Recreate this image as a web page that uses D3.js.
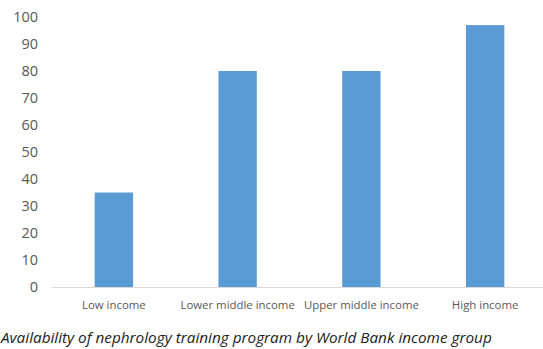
<!DOCTYPE html>
<html>
<head>
<meta charset="utf-8">
<script src="https://cdn.jsdelivr.net/npm/d3@7"></script>
<style>
  html, body { margin: 0; padding: 0; background: #fff; }
  svg { display: block; }
</style>
</head>
<body>
<svg id="chart" width="543" height="349"></svg>
<script>
// Share of countries with a nephrology training program, by income group
const categories = ["Low income", "Lower middle income", "Upper middle income", "High income"];
const values = [35, 80, 80, 97];
const yTicks = [0, 10, 20, 30, 40, 50, 60, 70, 80, 90, 100];
const caption = "Availability of nephrology training program by World Bank income group";

const svg = d3.select("#chart");
const margin = { left: 52, right: -4, top: 17, bottom: 62 };
const W = 543, H = 349;

const x = d3.scaleBand()
  .domain(categories)
  .range([margin.left, W - margin.right])
  .paddingInner(0.69)
  .paddingOuter(0.345);

const y = d3.scaleLinear()
  .domain([0, 100])
  .range([H - margin.bottom, margin.top]);

const font = "'Open Sans', 'Liberation Sans', sans-serif";

// y tick labels (no axis line, no gridlines)
svg.append("g")
  .selectAll("text")
  .data(yTicks)
  .join("text")
  .attr("x", 38)
  .attr("y", d => y(d))
  .attr("dy", "0.35em")
  .attr("text-anchor", "end")
  .attr("font-family", font)
  .attr("font-size", 14.5)
  .attr("fill", "#595959")
  .text(d => d);

// bars
svg.append("g")
  .selectAll("rect")
  .data(values)
  .join("rect")
  .attr("x", (d, i) => x(categories[i]))
  .attr("y", d => y(d))
  .attr("width", x.bandwidth())
  .attr("height", d => y(0) - y(d))
  .attr("fill", "#5b9bd5");

// category axis baseline
svg.append("line")
  .attr("x1", margin.left)
  .attr("x2", W)
  .attr("y1", y(0) + 0.5)
  .attr("y2", y(0) + 0.5)
  .attr("stroke", "#d9d9d9")
  .attr("stroke-width", 1);

// category labels
svg.append("g")
  .selectAll("text")
  .data(categories)
  .join("text")
  .attr("x", d => x(d) + x.bandwidth() / 2)
  .attr("y", y(0) + 22)
  .attr("text-anchor", "middle")
  .attr("font-family", font)
  .attr("font-size", 11.4)
  .attr("fill", "#595959")
  .text(d => d);

// caption
svg.append("text")
  .attr("x", 1)
  .attr("y", 343)
  .attr("font-family", font)
  .attr("font-size", 15.3)
  .attr("font-style", "italic")
  .attr("fill", "#222")
  .text(caption);
</script>
</body>
</html>
